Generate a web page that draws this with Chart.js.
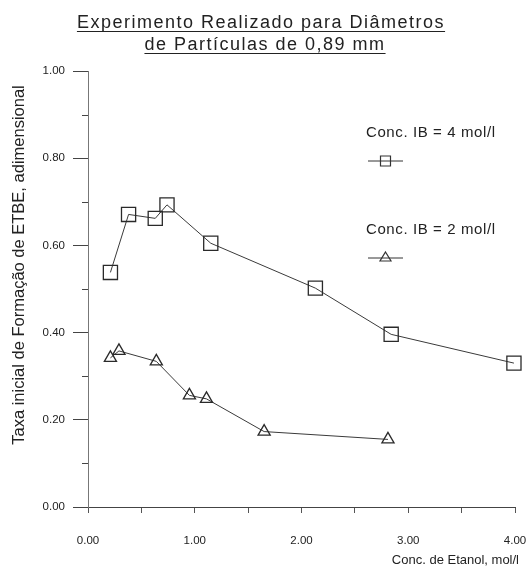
<!DOCTYPE html>
<html>
<head>
<meta charset="utf-8">
<script src="https://cdn.jsdelivr.net/npm/chart.js@4.4.1/dist/chart.umd.min.js"></script>
<style>
    html, body { margin: 0; padding: 0; background: #fff; }
</style>
</head>
<body>
<canvas id="js-chart-etbe" width="530" height="570"></canvas>
<script>
// texts
const titleLines = ["Experimento Realizado para Diâmetros", "de Partículas de 0,89 mm"];
const xTitle = "Conc. de Etanol, mol/l";
const yTitle = "Taxa inicial de Formação de ETBE, adimensional";
const seriesLabels = ["Conc. IB = 4 mol/l", "Conc. IB = 2 mol/l"];

// Conc. IB = 4 mol/l (squares)
const ib4Etanol = [0.21, 0.38, 0.63, 0.74, 1.15, 2.13, 2.84, 3.99];
const ib4Taxa = [0.538, 0.671, 0.662, 0.693, 0.605, 0.502, 0.396, 0.330];

// Conc. IB = 2 mol/l (triangles)
const ib2Etanol = [0.21, 0.29, 0.64, 0.95, 1.11, 1.65, 2.81];
const ib2Taxa = [0.342, 0.358, 0.334, 0.256, 0.248, 0.173, 0.155];

// axes
const xTicks = [0, 1, 2, 3, 4];
const yTicks = [0, 0.2, 0.4, 0.6, 0.8, 1.0];

const FONT = "'Liberation Sans', Arial, Helvetica, sans-serif";
const INK = "#222";

function toPoints(xs, ys) {
    return xs.map((x, i) => ({ x: x, y: ys[i] }));
}

const decor = {
    id: "decor",
    afterDraw(chart) {
        const ctx = chart.ctx;
        const ys = chart.scales.y;
        ctx.save();
        ctx.fillStyle = INK;
        ctx.strokeStyle = INK;

        // title, underlined
        ctx.font = "18px " + FONT;
        ctx.letterSpacing = "1.5px";
        ctx.textAlign = "left";
        ctx.textBaseline = "alphabetic";
        const base = [28, 50];
        const cx = [261, 265];
        titleLines.forEach((t, i) => {
            const w = ctx.measureText(t).width;
            const x0 = cx[i] - w / 2;
            ctx.fillText(t, x0, base[i]);
            ctx.lineWidth = 1.2;
            ctx.beginPath();
            ctx.moveTo(x0, base[i] + 3.5);
            ctx.lineTo(x0 + w, base[i] + 3.5);
            ctx.stroke();
        });
        ctx.letterSpacing = "0px";

        // y axis title
        ctx.font = "16.5px " + FONT;
        ctx.save();
        ctx.translate(19, 265);
        ctx.rotate(-Math.PI / 2);
        ctx.textAlign = "center";
        ctx.textBaseline = "middle";
        ctx.fillText(yTitle, 0, 0);
        ctx.restore();

        // x axis title
        ctx.font = "13px " + FONT;
        ctx.textAlign = "right";
        ctx.textBaseline = "middle";
        ctx.fillText(xTitle, 519, 560);

        // minor ticks on y
        ctx.strokeStyle = "#444";
        ctx.lineWidth = 1;
        ctx.beginPath();
        for (let v = 0.1; v < 1; v += 0.2) {
            const py = Math.round(ys.getPixelForValue(v)) + 0.5;
            ctx.moveTo(ys.right - 6, py);
            ctx.lineTo(ys.right, py);
        }
        ctx.stroke();

        // legend
        ctx.font = "15px " + FONT;
        ctx.letterSpacing = "0.6px";
        ctx.textAlign = "left";
        ctx.textBaseline = "middle";
        ctx.fillStyle = INK;
        const lx = 366, sx0 = 368, sx1 = 403;
        const rows = [{ ty: 133, sy: 161, style: "rect" }, { ty: 230, sy: 258, style: "triangle" }];
        rows.forEach((r, i) => {
            ctx.fillText(seriesLabels[i], lx, r.ty);
            ctx.strokeStyle = "#333";
            ctx.lineWidth = 1;
            ctx.beginPath();
            ctx.moveTo(sx0, r.sy);
            ctx.lineTo(sx1, r.sy);
            ctx.stroke();
            const mx = (sx0 + sx1) / 2;
            ctx.lineWidth = 1.2;
            ctx.beginPath();
            if (r.style === "rect") {
                ctx.rect(mx - 5, r.sy - 5, 10, 10);
            } else {
                ctx.moveTo(mx, r.sy - 6);
                ctx.lineTo(mx + 5.5, r.sy + 3);
                ctx.lineTo(mx - 5.5, r.sy + 3);
                ctx.closePath();
            }
            ctx.stroke();
        });
        ctx.restore();
    }
};

Chart.defaults.font.family = FONT;
Chart.defaults.color = INK;

let el = document.getElementById("js-chart-etbe");
let chart = new Chart(el, {
    type: "scatter",
    data: {
        datasets: [{
            label: seriesLabels[0],
            data: toPoints(ib4Etanol, ib4Taxa),
            showLine: true,
            clip: false,
            borderColor: "#3a3a3a",
            borderWidth: 1,
            pointStyle: "rect",
            pointRadius: 10,
            pointBorderWidth: 1.3,
            pointBorderColor: "#2a2a2a",
            pointBackgroundColor: "transparent"
        }, {
            label: seriesLabels[1],
            data: toPoints(ib2Etanol, ib2Taxa),
            showLine: true,
            clip: false,
            borderColor: "#3a3a3a",
            borderWidth: 1,
            pointStyle: "triangle",
            pointRadius: 7,
            pointBorderWidth: 1.3,
            pointBorderColor: "#2a2a2a",
            pointBackgroundColor: "transparent"
        }]
    },
    options: {
        responsive: !1,
        animation: !1,
        layout: { padding: { top: 71, right: 15, left: 0, bottom: 0 } },
        plugins: {
            legend: { display: !1 },
            tooltip: { enabled: !1 },
            title: { display: !1 }
        },
        scales: {
            x: {
                type: "linear",
                min: xTicks[0],
                max: xTicks[xTicks.length - 1],
                afterFit: function (s) {
                    s.height = 63;
                    s.paddingLeft = 0;
                    s.paddingRight = 0;
                },
                border: { display: !0, color: "#444", width: 1 },
                grid: { drawOnChartArea: !1, drawTicks: !0, tickLength: 6, tickColor: "#555" },
                ticks: {
                    stepSize: 0.5,
                    autoSkip: !1,
                    maxRotation: 0,
                    padding: 21,
                    font: { size: 11.5 },
                    color: INK,
                    callback: function (v) {
                        return xTicks.includes(v) ? v.toFixed(2) : "";
                    }
                }
            },
            y: {
                type: "linear",
                min: yTicks[0],
                max: yTicks[yTicks.length - 1],
                afterFit: function (s) {
                    s.width = 88;
                    s.paddingTop = 0;
                    s.paddingBottom = 0;
                },
                border: { display: !0, color: "#777", width: 1 },
                grid: { drawOnChartArea: !1, drawTicks: !0, tickLength: 15, tickColor: "#444" },
                ticks: {
                    stepSize: 0.2,
                    padding: 8,
                    font: { size: 11.5 },
                    color: INK,
                    callback: function (v) { return v.toFixed(2); }
                }
            }
        }
    },
    plugins: [decor]
});
</script>
</body>
</html>
